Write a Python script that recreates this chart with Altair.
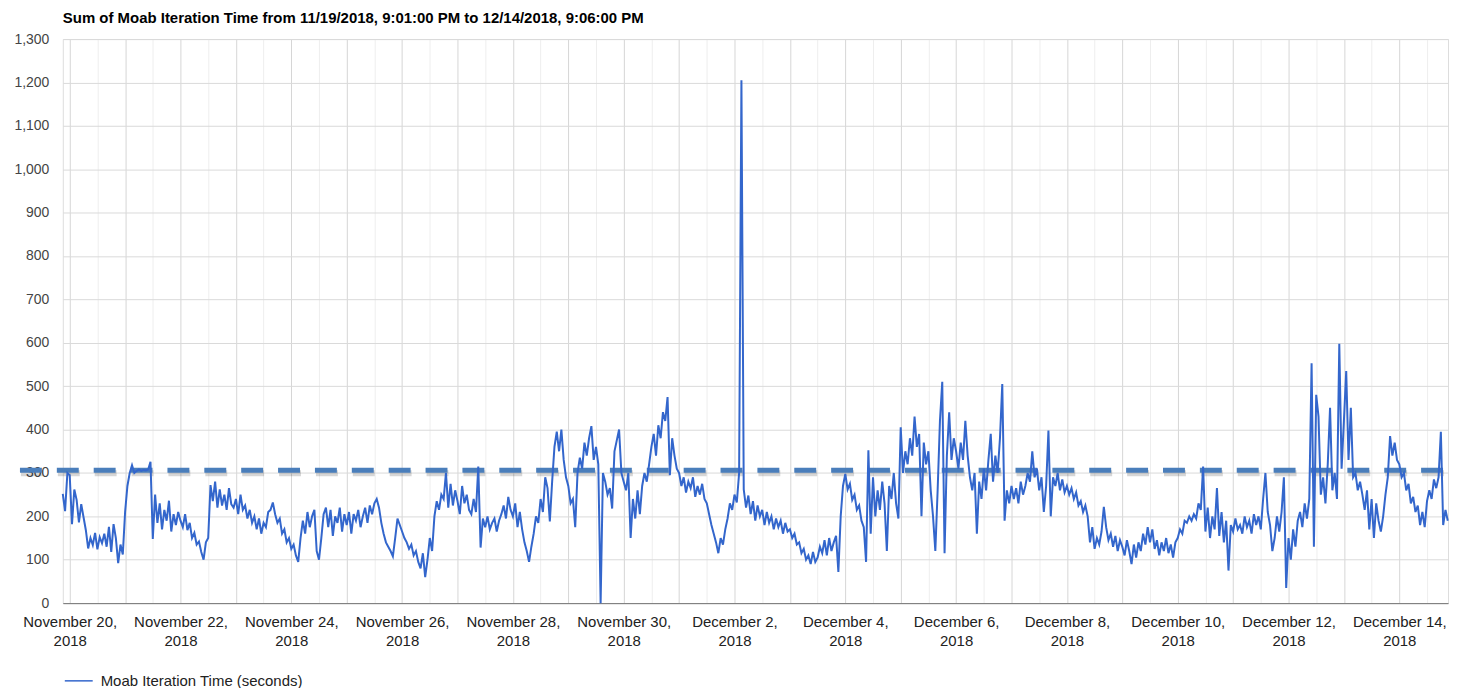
import altair as alt
import pandas as pd

# Hourly values (seconds), starting 2018-11-19 21:00 UTC
nov19 = [252, 212, 300]
nov20 = [295, 182, 262, 238, 186, 228, 198, 168, 126, 150, 134, 162, 124, 152, 138, 160, 130, 176, 118, 182, 150, 92, 135, 112]
nov21 = [210, 270, 300, 318, 300, 305, 308, 305, 307, 306, 308, 326, 148, 250, 185, 230, 170, 215, 190, 236, 165, 205, 180, 210]
nov22 = [190, 175, 205, 168, 185, 150, 162, 135, 142, 118, 100, 140, 150, 272, 235, 280, 220, 262, 225, 250, 215, 265, 228, 220]
nov23 = [240, 205, 250, 215, 225, 195, 215, 185, 200, 170, 195, 160, 185, 175, 210, 215, 232, 205, 185, 195, 160, 170, 140, 150]
nov24 = [125, 135, 110, 95, 150, 190, 160, 210, 175, 200, 215, 120, 100, 150, 205, 220, 175, 215, 155, 200, 185, 220, 165, 205]
nov25 = [180, 210, 160, 205, 190, 215, 175, 200, 220, 185, 225, 205, 230, 240, 220, 185, 160, 140, 130, 120, 108, 150, 195, 180]
nov26 = [165, 150, 140, 125, 135, 110, 120, 95, 80, 115, 60, 100, 150, 120, 200, 235, 215, 250, 240, 300, 220, 275, 225, 260]
nov27 = [235, 205, 270, 230, 250, 215, 205, 240, 210, 315, 128, 195, 175, 200, 170, 185, 195, 165, 190, 205, 225, 195, 245, 215]
nov28 = [200, 230, 175, 210, 170, 140, 120, 95, 130, 160, 200, 185, 240, 210, 290, 265, 188, 280, 360, 395, 350, 400, 330, 290]
nov29 = [270, 230, 240, 175, 300, 335, 310, 370, 340, 380, 408, 330, 360, 320, 0, 300, 280, 250, 265, 218, 350, 375, 400, 300]
nov30 = [280, 260, 300, 150, 240, 195, 260, 205, 270, 300, 280, 320, 360, 390, 340, 410, 380, 440, 420, 475, 295, 380, 340, 310]
dec01 = [300, 270, 290, 255, 280, 265, 290, 245, 270, 250, 275, 240, 230, 205, 180, 160, 140, 115, 150, 135, 170, 195, 230, 215]
dec02 = [250, 232, 300, 1205, 262, 220, 248, 205, 235, 190, 225, 200, 215, 180, 210, 185, 200, 170, 195, 175, 190, 160, 185, 165]
dec03 = [170, 150, 160, 135, 140, 115, 125, 100, 110, 90, 118, 95, 105, 130, 115, 145, 110, 150, 120, 140, 155, 72, 200, 270]
dec04 = [298, 262, 275, 238, 250, 215, 225, 190, 175, 95, 352, 160, 290, 200, 260, 215, 280, 230, 120, 270, 240, 300, 230, 195]
dec05 = [405, 300, 350, 320, 380, 340, 430, 360, 390, 200, 370, 320, 350, 260, 200, 120, 260, 420, 510, 115, 340, 440, 330, 380]
dec06 = [350, 310, 370, 330, 420, 340, 290, 260, 300, 160, 280, 240, 310, 260, 330, 390, 280, 340, 300, 380, 505, 190, 260, 230]
dec07 = [270, 240, 265, 230, 280, 250, 270, 300, 280, 350, 290, 310, 260, 290, 210, 270, 398, 200, 290, 270, 300, 260, 285, 255]
dec08 = [270, 250, 265, 240, 255, 225, 235, 210, 225, 200, 140, 175, 125, 150, 135, 165, 222, 175, 145, 160, 130, 155, 120, 145]
dec09 = [130, 110, 145, 120, 90, 135, 105, 140, 120, 160, 135, 175, 140, 170, 125, 145, 110, 140, 120, 150, 115, 135, 105, 140]
dec10 = [150, 170, 160, 190, 185, 200, 190, 205, 195, 230, 215, 315, 165, 220, 150, 200, 170, 265, 155, 210, 140, 190, 75, 180]
dec11 = [165, 195, 170, 180, 160, 200, 175, 190, 160, 205, 180, 200, 170, 240, 300, 210, 180, 120, 150, 200, 165, 210, 290, 35]
dec12 = [150, 100, 170, 130, 190, 210, 175, 230, 195, 240, 553, 130, 480, 430, 250, 290, 230, 320, 450, 260, 300, 240, 598, 310]
dec13 = [420, 535, 330, 450, 290, 300, 260, 280, 250, 215, 260, 170, 240, 150, 230, 190, 165, 200, 250, 290, 385, 340, 370, 330]
dec14 = [320, 290, 300, 260, 275, 230, 245, 210, 225, 180, 210, 175, 235, 260, 240, 285, 265, 290, 395, 180, 215, 190]

threshold = [306]
series_name = "Moab Iteration Time (seconds)"
title_text = "Sum of Moab Iteration Time from 11/19/2018, 9:01:00 PM to 12/14/2018, 9:06:00 PM"

days = [nov19, nov20, nov21, nov22, nov23, nov24, nov25, nov26, nov27, nov28, nov29, nov30,
        dec01, dec02, dec03, dec04, dec05, dec06, dec07, dec08, dec09, dec10, dec11, dec12,
        dec13, dec14]
values = [v for d in days for v in d]
times = pd.date_range("2018-11-19 21:00", periods=len(values), freq="h")
df = pd.DataFrame({
    "time": times.strftime("%Y-%m-%dT%H:%M:%SZ"),
    "value": values,
    "series": series_name,
})
thr = pd.DataFrame({"value": threshold})

W, H = 1390, 566
FONT = "Liberation Sans"

tick_times = pd.date_range("2018-11-20 00:00", "2018-12-14 12:00", freq="12h")
tick_ms = [int(t.value // 10**6) for t in tick_times]

x_scale = alt.Scale(
    type="utc",
    domain=[alt.DateTime(year=2018, month=11, date=19, hours=21, minutes=1, utc=True),
            alt.DateTime(year=2018, month=12, date=14, hours=21, minutes=6, utc=True)],
)
y_scale = alt.Scale(domain=[0, 1300], nice=False)

x_axis = alt.Axis(
    values=tick_ms,
    title=None,
    ticks=False,
    domainColor="#777",
    labelExpr="(utchours(datum.value) == 0 && ((datum.value - utc(2018,10,20)) / 86400000) % 2 == 0) ? [utcFormat(datum.value, '%B %-d,'), utcFormat(datum.value, '%Y')] : ''",
    gridColor=alt.condition("utchours(datum.value) == 12", alt.value("#eeeeee"), alt.value("#d6d6d6")),
    labelFontSize=15,
    labelColor="#222",
    labelFont=FONT,
    labelPadding=11,
    labelLineHeight=20,
    labelFlush=False,
    labelOverlap=False,
)
y_axis = alt.Axis(
    values=list(range(0, 1301, 50)),
    title=None,
    ticks=False,
    domain=False,
    labelExpr="datum.value % 100 == 0 ? format(datum.value, ',') : ''",
    gridColor=alt.condition("datum.value % 100 == 0", alt.value("#dadada"), alt.value("#f0f0f0")),
    labelFontSize=14,
    labelColor="#444",
    labelFont=FONT,
    labelPadding=14,
)

line = alt.Chart(df).mark_line(strokeWidth=2).encode(
    x=alt.X("time:T", scale=x_scale, axis=x_axis),
    y=alt.Y("value:Q", scale=y_scale, axis=y_axis),
    color=alt.Color(
        "series:N",
        scale=alt.Scale(range=["#3366cc"]),
        legend=alt.Legend(
            title=None, orient="none", legendX=1, legendY=629, padding=0,
            symbolType="stroke", symbolSize=784, symbolStrokeWidth=1.5,
            labelFontSize=15, labelColor="#222", labelFont=FONT, labelOffset=7,
            labelLimit=500,
        ),
    ),
)

shadow = alt.Chart(thr).mark_rule(
    strokeWidth=6, strokeDash=[22, 15], color="#000", opacity=0.16, yOffset=3, xOffset=1
).encode(y=alt.Y("value:Q", scale=y_scale), x=alt.value(-43), x2=alt.value(W))

rule = alt.Chart(thr).mark_rule(
    strokeWidth=5, strokeDash=[22, 15], color="#4a7ebb"
).encode(y=alt.Y("value:Q", scale=y_scale), x=alt.value(-43), x2=alt.value(W))

chart = alt.layer(shadow, rule, line).properties(
    width=W,
    height=H,
    title=alt.TitleParams(title_text, anchor="start", frame="group", fontSize=15,
                          fontWeight="bold", color="#000", font=FONT, offset=6),
    padding={"left": 5, "top": 2, "right": 0, "bottom": 0},
).configure_view(stroke=None).configure(font=FONT)

chart.save("out.html", embed_options={"renderer": "svg", "actions": False})
